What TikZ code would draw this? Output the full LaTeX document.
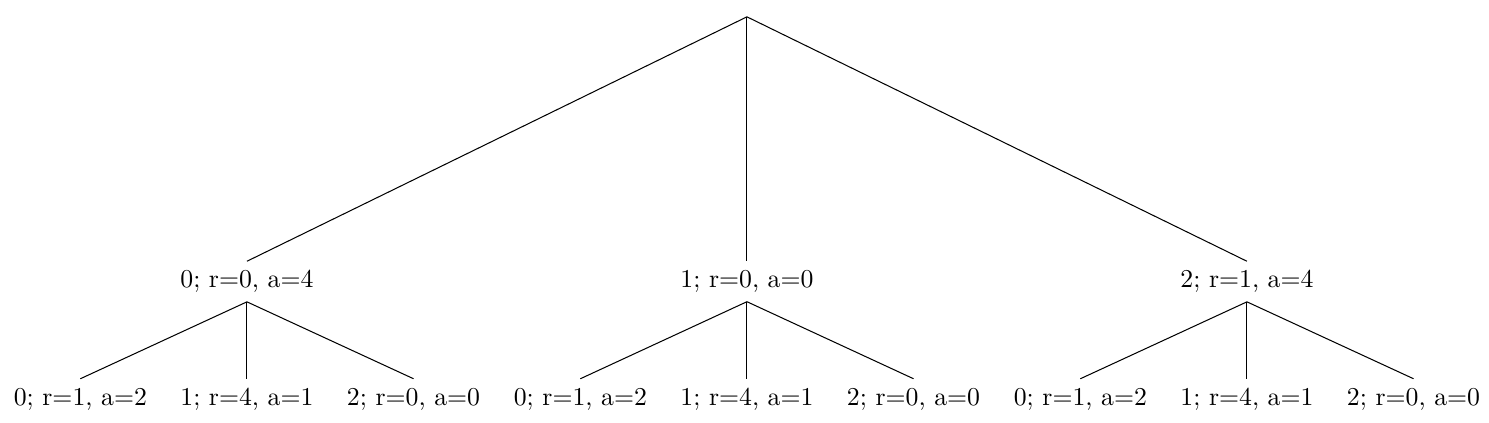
\documentclass[tikz,border=0pt]{standalone}
\usepackage{tikz}
\usetikzlibrary{positioning}

\begin{document}
\begin{tikzpicture}[
    root/.style={
        inner sep=0pt
    },
    state/.style={
        align=center
    }
]

\useasboundingbox (-10.196, -5.567) rectangle (10.129, 0.205);

% ------------------------------------------------
% Root
% ------------------------------------------------

\node[root] (root) at (0, 0) {};

% ------------------------------------------------
% First level
% ------------------------------------------------

\node[state] (s0) at (-6.825, -3.638) {0; r=0, a=4};
\node[state] (s1) at (0, -3.638) {1; r=0, a=0};
\node[state] (s2) at (6.825, -3.638) {2; r=1, a=4};

% ------------------------------------------------
% Second level
% ------------------------------------------------

\node[state] (s00) at (-9.099, -5.240) {0; r=1, a=2};
\node[state] (s01) at (-6.825, -5.240) {1; r=4, a=1};
\node[state] (s02) at (-4.551, -5.240) {2; r=0, a=0};

\node[state] (s10) at (-2.274, -5.240) {0; r=1, a=2};
\node[state] (s11) at (0, -5.240) {1; r=4, a=1};
\node[state] (s12) at (2.274, -5.240) {2; r=0, a=0};

\node[state] (s20) at (4.551, -5.240) {0; r=1, a=2};
\node[state] (s21) at (6.825, -5.240) {1; r=4, a=1};
\node[state] (s22) at (9.099, -5.240) {2; r=0, a=0};

% ------------------------------------------------
% Edges
% ------------------------------------------------

\draw (root.south) -- (s0.north);
\draw (root.south) -- (s1.north);
\draw (root.south) -- (s2.north);

\draw (s0.south) -- (s00.north);
\draw (s0.south) -- (s01.north);
\draw (s0.south) -- (s02.north);

\draw (s1.south) -- (s10.north);
\draw (s1.south) -- (s11.north);
\draw (s1.south) -- (s12.north);

\draw (s2.south) -- (s20.north);
\draw (s2.south) -- (s21.north);
\draw (s2.south) -- (s22.north);

\end{tikzpicture}
\end{document}
